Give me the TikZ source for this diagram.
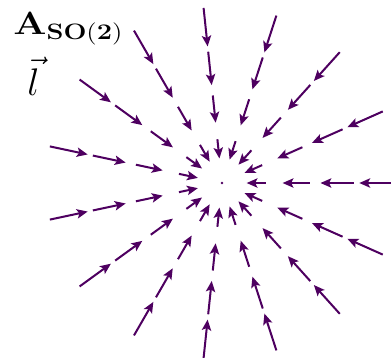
\documentclass[tikz,border=0pt]{standalone}
\usepackage{tikz}
\usepackage{graphicx}
\usepackage{xcolor}
\usetikzlibrary{arrows.meta, calc}
\definecolor{FieldPurple}{HTML}{4E0060}
\tikzset{
    % Field arrow style
    fieldarrow/.style={
        -{Stealth[length=7pt, width=6pt, inset=1.5pt]},
        line width=1.3pt,
        color=FieldPurple
    },
    % Label style
    fieldlabel/.style={
        anchor=base west,
        inner sep=0pt
    }
}

\begin{document}
\begin{tikzpicture}[x=1cm, y=1cm]
        \useasboundingbox (-5.045,-3.977) rectangle (3.841,4.159);

        % Labels
        \node (alabel) [fieldlabel, font=\fontsize{21}{24}\selectfont] at (-4.75,3.38)
            {\scalebox{1.22}[1]{$\mathbf{A}_{\mbox{\fontsize{14}{16}\selectfont$\mathbf{SO(2)}$}}$}};
        \node (llabel) [fieldlabel, font=\fontsize{30}{34}\selectfont] at (-4.43,2.0) {$\vec{l}$};

        % Origin
        \coordinate (origin) at (0,0);
        \fill [FieldPurple] (origin) circle (0.9pt);

        % Radial field: 15 rays, 4 arrows per ray
        \foreach \j in {0,...,14} {
            \foreach \k in {1,...,4} {
                \coordinate (tail-\j-\k) at ({24*\j}:\k);
                \coordinate (head-\j-\k) at ({24*\j}:{\k-0.44*sqrt(\k)});
                \draw [fieldarrow] (tail-\j-\k) -- (head-\j-\k);
            }
        }
\end{tikzpicture}
\end{document}
